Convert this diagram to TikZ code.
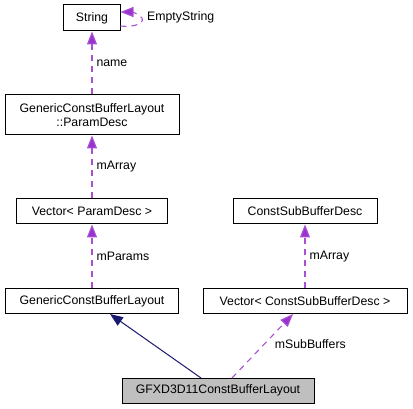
\documentclass[tikz,border=0pt]{standalone}
\usepackage{fontspec}
\setmainfont{Liberation Sans}
\usetikzlibrary{arrows.meta}
\definecolor{dox}{HTML}{9A32CD}
\definecolor{navyc}{HTML}{191970}
\definecolor{grayfill}{HTML}{BFBFBF}
\begin{document}
\begin{tikzpicture}[x=1pt,y=-1pt,
  cls/.style={draw=black,line width=1pt,fill=white,inner sep=0pt,font=\fontsize{12.3}{14.5}\selectfont,align=center},
  usage/.style={color=dox,draw=dox!85,line width=1.1pt,dash pattern=on 6pt off 5pt,-{Triangle[length=13pt,width=10pt,fill=dox]}},
  inh/.style={color=navyc,draw=navyc,line width=1pt,-{Triangle[length=13pt,width=10pt,fill=navyc]}},
  lbl/.style={text=black,font=\fontsize{12.3}{14.5}\selectfont,inner sep=0pt}]
\useasboundingbox (0,0) rectangle (413,409);
\node[cls,minimum width=57pt,minimum height=26pt] (str) at (92,18) {String};
\node[cls,minimum width=174pt,minimum height=40pt] (pd) at (92,115) {GenericConstBufferLayout\\::ParamDesc};
\node[cls,minimum width=151pt,minimum height=25pt] (vpd) at (92,211.5) {Vector< ParamDesc >};
\node[cls,minimum width=144pt,minimum height=25pt] (csbd) at (305,211.5) {ConstSubBufferDesc};
\node[cls,minimum width=173pt,minimum height=25pt] (gcbl) at (92,301.5) {GenericConstBufferLayout};
\node[cls,minimum width=204pt,minimum height=25pt] (vcsbd) at (305,301.5) {Vector< ConstSubBufferDesc >};
\node[cls,fill=grayfill,minimum width=192pt,minimum height=25pt] (gfx) at (218,390.5) {GFXD3D11ConstBufferLayout};
\draw[usage] (pd.north) -- node[lbl,right=4pt,pos=0.5] {name} (str.south);
\draw[usage] (vpd.north) -- node[lbl,right=4pt] {mArray} (pd.south);
\draw[usage] (gcbl.north) -- node[lbl,right=4pt] {mParams} (vpd.south);
\draw[usage] (vcsbd.north) -- node[lbl,right=4pt] {mArray} (csbd.south);
\coordinate (gfxa) at (201,378);
\coordinate (gcb) at (110,314);
\draw[inh] (gfxa) -- (gcb);
\coordinate (gfxb) at (232,378);
\coordinate (vcb) at (293,314);
\draw[usage] (gfxb) -- node[lbl,right=10pt,pos=0.53] {mSubBuffers} (vcb);
\coordinate (sa) at (120.5,26);
\coordinate (sb) at (120.5,12);
\draw[usage] (sa) .. controls (135,28) and (148,22) .. (140,16) .. controls (136,13) and (132,12) .. (sb);
\node[lbl,anchor=west] (es) at (147,17) {EmptyString};
\end{tikzpicture}
\end{document}
